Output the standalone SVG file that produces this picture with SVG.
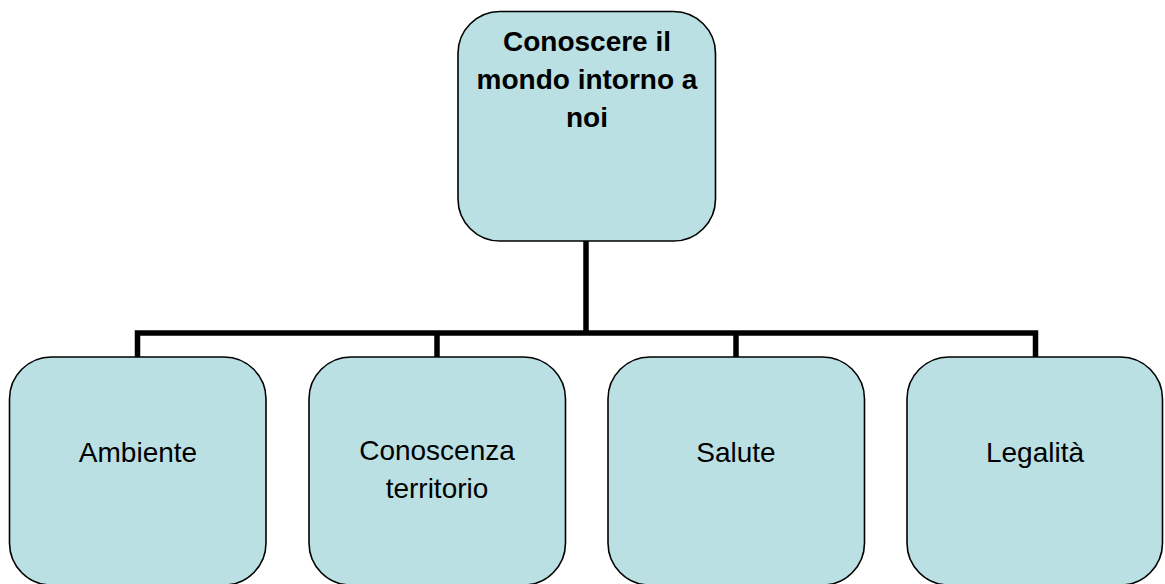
<svg xmlns="http://www.w3.org/2000/svg" width="1165" height="584" viewBox="0 0 1165 584">
<style>
.box{fill:#BAE0E3;stroke:#000;stroke-width:1.6}
.t{font-family:"Liberation Sans",Arial,sans-serif;font-size:28px;fill:#000;text-anchor:middle}
.b{font-weight:bold}
.c{fill:none;stroke:#000;stroke-width:5.5}
</style>
<rect width="1165" height="584" fill="#fff"/>
<g id="connectors">
<path class="c" d="M586 241V333M137.5 357V333H1035.5V357M437 333V357M736 333V357"/>
</g>
<g id="root">
<rect class="box" x="458" y="11.5" width="257.5" height="229.5" rx="42"/>
<text class="t b" x="587" y="51">Conoscere il</text>
<text class="t b" x="587" y="89">mondo intorno a</text>
<text class="t b" x="587" y="127">noi</text>
</g>
<g id="ambiente">
<rect class="box" x="9.5" y="357" width="256.5" height="228" rx="42"/>
<text class="t" x="138" y="462">Ambiente</text>
</g>
<g id="conoscenza">
<rect class="box" x="309" y="357" width="256.5" height="228" rx="42"/>
<text class="t" x="437" y="460">Conoscenza</text>
<text class="t" x="437" y="498">territorio</text>
</g>
<g id="salute">
<rect class="box" x="608" y="357" width="256.5" height="228" rx="42"/>
<text class="t" x="736" y="462">Salute</text>
</g>
<g id="legalita">
<rect class="box" x="907" y="357" width="255.5" height="228" rx="42"/>
<text class="t" x="1035" y="462">Legalità</text>
</g>
</svg>
